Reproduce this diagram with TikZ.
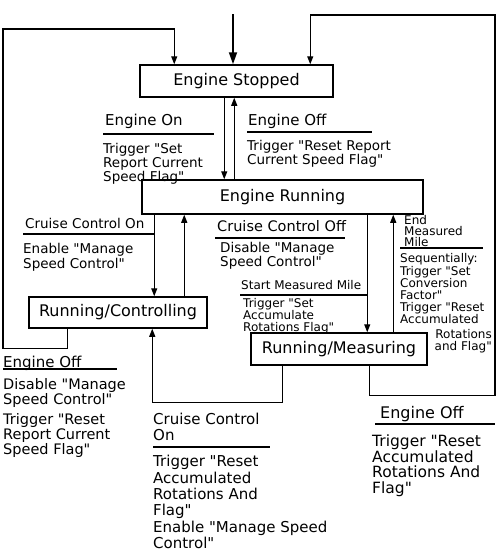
\documentclass[tikz,border=0pt]{standalone}
\usepackage{fontspec}
\newfontfamily\handfont{DejaVu Sans}
\usepackage{tikz}
\usetikzlibrary{arrows.meta}
\tikzset{
    state box/.style={rectangle, draw, line width=1.5pt, inner sep=0pt, font=\handfont\fontsize{16}{17}\selectfont},
    transition/.style={-{Triangle[length=8pt, width=6pt]}, line width=1.2pt},
    start transition/.style={-{Triangle[length=12pt, width=8pt]}, line width=1.7pt},
    event label/.style={anchor=north west, inner sep=0pt, align=left, font=\handfont\fontsize{15}{16}\selectfont},
    action label/.style={anchor=north west, inner sep=0pt, align=left, font=\handfont\fontsize{13.5}{14}\selectfont},
    small label/.style={anchor=north west, inner sep=0pt, align=left, font=\handfont\fontsize{12}{11.5}\selectfont},
    underline/.style={line width=1.3pt}
}

\begin{document}
\begin{tikzpicture}[x=1pt, y=-1pt]
    \useasboundingbox (0,0) rectangle (500,552);

    % States
    \node[state box, minimum width=193pt, minimum height=32pt] (stopped) at (236.5,81) {Engine Stopped\hspace{22pt}};
    \node[state box, minimum width=281pt, minimum height=34pt] (running) at (282.5,197) {Engine Running\hspace{50pt}};
    \node[state box, minimum width=178pt, minimum height=31pt] (controlling) at (118,312.5) {Running/Controlling};
    \node[state box, minimum width=176pt, minimum height=32pt] (measuring) at (339,349) {Running/Measuring};

    % Corners of the return lines
    \coordinate (init) at (233,14);
    \coordinate (left rail) at (3,29);
    \coordinate (right rail) at (495,15);

    % Initial transition
    \draw[start transition] (init) -- (init |- stopped.north);

    % Engine stopped <-> engine running
    \draw[transition] ([xshift=85pt]stopped.south west) -- ([xshift=83pt]running.north west);
    \draw[transition] ([xshift=93pt]running.north west) -- ([xshift=95pt]stopped.south west);

    % Engine running <-> running/controlling
    \draw[transition] ([xshift=13pt]running.south west) -- ([xshift=126pt]controlling.north west);
    \draw[transition] ([xshift=156pt]controlling.north west) -- ([xshift=43pt]running.south west);

    % Engine running <-> running/measuring
    \draw[transition] ([xshift=226pt]running.south west) -- ([xshift=117pt]measuring.north west);
    \draw[transition] ([xshift=143pt]measuring.north west) -- ([xshift=252pt]running.south west);

    % Return lines
    \draw[transition] ([xshift=39pt]controlling.south west) -- ++(0,20) -| (left rail) -| ([xshift=35pt]stopped.north west);
    \draw[transition] ([xshift=32pt]measuring.south west) -- ++(0,37) -| ([xshift=124pt]controlling.south west);
    \draw[transition] ([xshift=119pt]measuring.south west) -- ++(0,30) -| (right rail) -| ([xshift=171pt]stopped.north west);

    % Engine on
    \node[event label] (on ev) at (105,114) {Engine On};
    \draw[underline] (103,134) -- (214,134);
    \node[action label] (on act) at (103,143) {Trigger "Set\\Report Current\\Speed Flag"};

    % Engine off (from running)
    \node[event label] (off ev) at (248,114) {Engine Off};
    \draw[underline] (247,132) -- (372,132);
    \node[action label] (off act) at (247,140) {Trigger "Reset Report\\Current Speed Flag"};

    % Cruise control on
    \node[event label, font=\handfont\fontsize{13.5}{14}\selectfont] (cc on ev) at (25,218) {Cruise Control On};
    \draw[underline] (23,234) -- (155,234);
    \node[action label, font=\handfont\fontsize{13.5}{15}\selectfont] (cc on act) at (23,243) {Enable "Manage\\Speed Control"};

    % Cruise control off
    \node[event label, font=\handfont\fontsize{14.5}{15}\selectfont] (cc off ev) at (217,220) {Cruise Control Off};
    \draw[underline] (215,238) -- (345,238);
    \node[action label] (cc off act) at (220,242) {Disable "Manage\\Speed Control"};

    % Start measured mile
    \node[small label] (start ev) at (241,280) {Start Measured Mile};
    \draw[underline] (240,295) -- (368,295);
    \node[small label] (start act) at (243,298) {Trigger "Set\\Accumulate\\Rotations Flag"};

    % End measured mile
    \node[small label, font=\handfont\fontsize{12}{11}\selectfont] (end ev) at (404,215) {End\\Measured\\Mile};
    \draw[underline] (400,248) -- (483,248);
    \node[small label] (end act a) at (400,253) {Sequentially:};
    \node[small label] (end act b) at (400,266) {Trigger "Set\\Conversion\\Factor"};
    \node[small label] (end act c) at (400,302) {Trigger "Reset\\Accumulated};
    \node[small label, anchor=north east, align=right, font=\handfont\fontsize{12}{12.5}\selectfont] (end act d) at (492,329) {Rotations\\and Flag"};

    % Engine off (from controlling)
    \node[event label] (ctl off ev) at (3,356) {Engine Off};
    \draw[underline] (3,369) -- (117,369);
    \node[action label, font=\handfont\fontsize{14.5}{15}\selectfont] (ctl off act) at (3,378) {Disable "Manage\\Speed Control"\\[5pt]Trigger "Reset\\Report Current\\Speed Flag"};

    % Cruise control on (from measuring)
    \node[event label, font=\handfont\fontsize{15}{16}\selectfont] (ms on ev) at (153,413) {Cruise Control\\On};
    \draw[underline] (153,447) -- (270,447);
    \node[action label, font=\handfont\fontsize{15}{16.4}\selectfont] (ms on act) at (153,455) {Trigger "Reset\\Accumulated\\Rotations And\\Flag"\\Enable "Manage Speed\\Control"};

    % Engine off (from measuring)
    \node[event label, font=\handfont\fontsize{16}{16}\selectfont] (ms off ev) at (380,406) {Engine Off};
    \draw[underline] (375,424) -- (495,424);
    \node[action label, font=\handfont\fontsize{15.5}{15.5}\selectfont] (ms off act) at (372,435) {Trigger "Reset\\Accumulated\\Rotations And\\Flag"};
\end{tikzpicture}
\end{document}
